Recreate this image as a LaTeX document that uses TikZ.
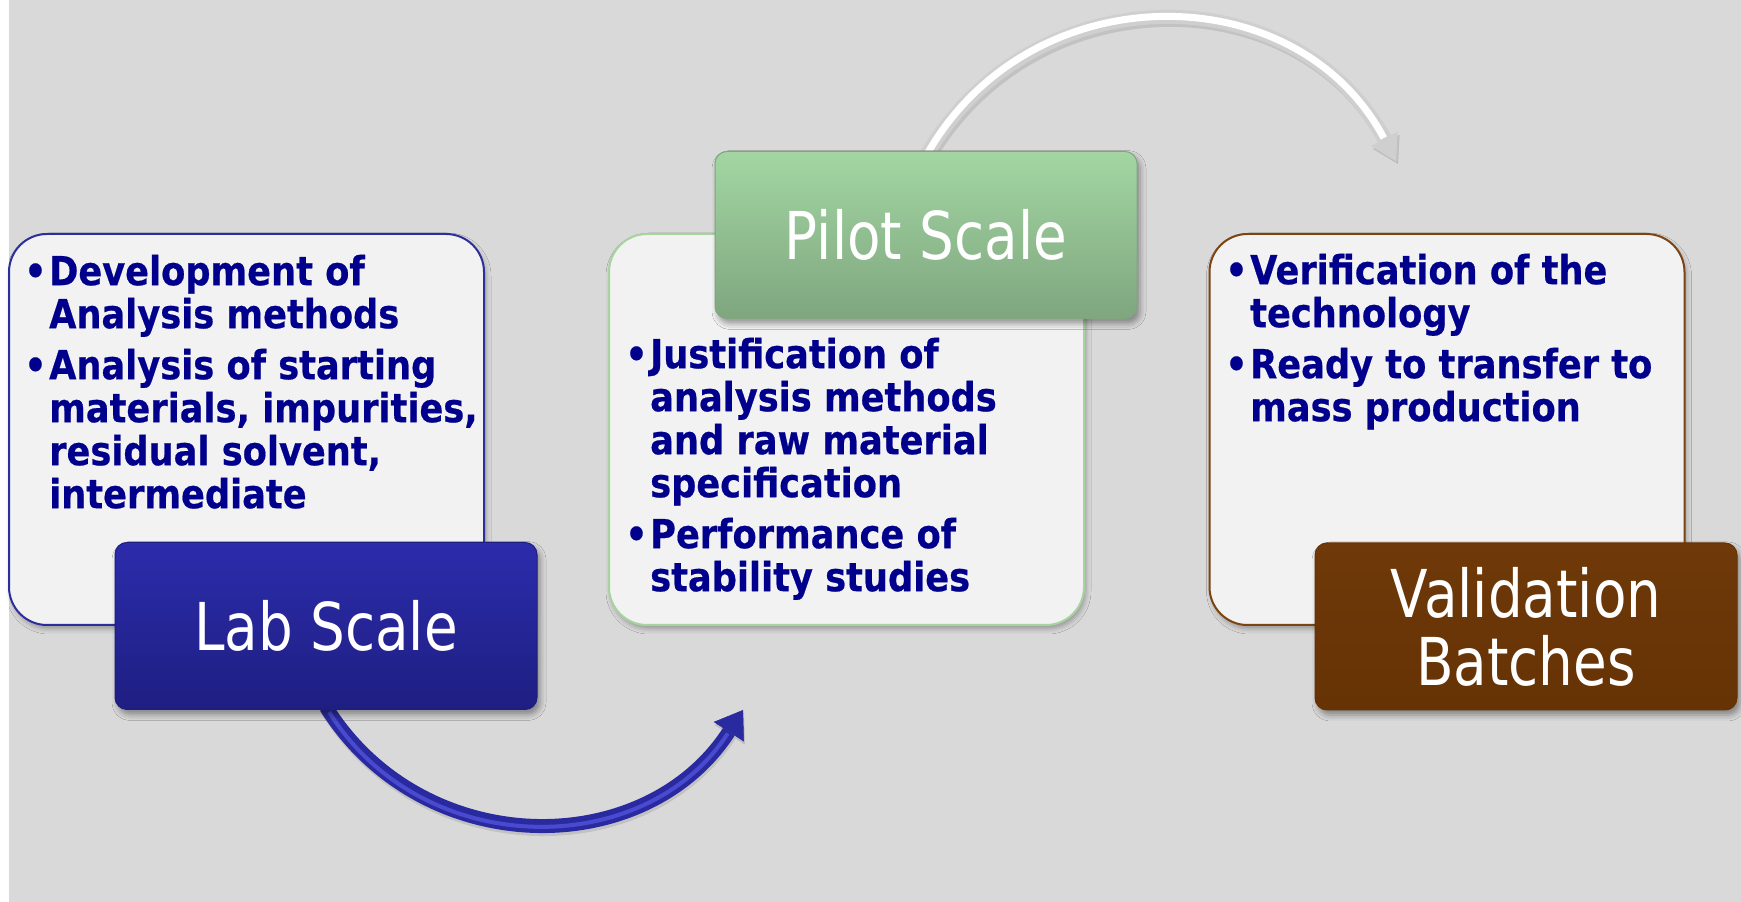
\documentclass[tikz,border=0pt]{standalone}
\usepackage{fontspec}
\setmainfont{DejaVu Sans}
\newfontfamily\bodyfont{DejaVu Sans}[FakeStretch=0.88,BoldFeatures={FakeBold=0.5}]
\newfontfamily\labelfont{DejaVu Sans}[FakeStretch=0.83]
\usetikzlibrary{arrows.meta,shadows.blur}
\definecolor{bg}{HTML}{D9D9D9}
\definecolor{boxfill}{HTML}{F2F2F2}
\definecolor{txt}{HTML}{00008C}
\definecolor{labtop}{HTML}{2C2CAC}
\definecolor{labbot}{HTML}{1E1E82}
\definecolor{labedge}{HTML}{2E2E9A}
\definecolor{piltop}{HTML}{A3D6A3}
\definecolor{pilbot}{HTML}{7FA67F}
\definecolor{piledge}{HTML}{A6D39E}
\definecolor{valtop}{HTML}{6F3909}
\definecolor{valbot}{HTML}{663305}
\definecolor{valedge}{HTML}{7A4512}
\definecolor{arrblue}{HTML}{2A2AA0}
\definecolor{arrbluelight}{HTML}{4A4AD0}
\definecolor{arrgray}{HTML}{CFCFCF}
\newcommand\bul{\rule{0pt}{32pt}\makebox[23pt][l]{\hspace{-2pt}•}}
\newcommand\ind{\hspace*{23pt}}
\begin{document}
\begin{tikzpicture}[x=1pt,y=1pt,
  textbox/.style={draw, line width=2pt, fill=boxfill, rounded corners=38pt,
    minimum width=475pt, minimum height=391pt, inner sep=0pt,
    blur shadow={shadow xshift=2pt, shadow yshift=-4pt, shadow blur radius=5pt, shadow opacity=30}},
  labelbox/.style={rounded corners=12pt, minimum width=422pt, minimum height=167pt,
    inner sep=0pt, text=white, align=center,
    font={\labelfont\fontsize{66}{68}\selectfont},
    blur shadow={shadow xshift=3pt, shadow yshift=-5pt, shadow blur radius=6pt, shadow opacity=40}},
  bodytext/.style={inner sep=0pt, align=left, text=txt, anchor=north west,
    font={\bodyfont\bfseries\fontsize{40}{43}\selectfont}},
  arrowtipblue/.style={-{Triangle[length=26pt,width=36pt,line width=0.5pt]}},
  arrowtipgray/.style={-{Triangle[length=25pt,width=30pt,line width=0.5pt]}}
  ]
\useasboundingbox (0,0) rectangle (1741,902);
\fill[bg] (9,0) rectangle (1741,902);

% text boxes
\node[textbox, draw=labedge] (labbox) at (246.5,472.5) {};
\node[textbox, draw=piledge] (pilbox) at (846.5,472.5) {};
\node[textbox, draw=valedge] (valbox) at (1447,472.5) {};

\node[bodytext] (labtext) at (26,649) {\bul Development of\\
\ind Analysis methods\\[8pt]
\bul Analysis of starting\\
\ind materials, impurities,\\
\ind residual solvent,\\
\ind intermediate};

\node[bodytext] (piltext) at (627,566) {\bul Justification of\\
\ind analysis methods\\
\ind and raw material\\
\ind specification\\[8pt]
\bul Performance of\\
\ind stability studies};

\node[bodytext] (valtext) at (1227,650) {\bul Verification of the\\
\ind technology\\[8pt]
\bul Ready to transfer to\\
\ind mass production};

% coordinates for arrow ends
\coordinate (bt) at (743,192);
\coordinate (gt) at (1396,741);

% blue arrow
\draw[black!40, opacity=0.35, line width=14pt, arrowtipblue, transform canvas={xshift=1pt,yshift=-3pt}] (326,195) to[out=302,in=237,looseness=1.11] (bt);
\draw[arrblue, line width=14pt, arrowtipblue] (326,195) to[out=302,in=237,looseness=1.11] (bt);
\draw[arrbluelight, line width=4pt, shorten >=28pt, shorten <=6pt] (326,195) to[out=302,in=237,looseness=1.11] (bt);

% gray arrow
\draw[black!35, opacity=0.45, line width=14pt, arrowtipgray, transform canvas={xshift=2pt,yshift=-3pt}] (926,746) to[out=60,in=118,looseness=1.15] (gt);
\draw[arrgray, line width=14pt, arrowtipgray] (926,746) to[out=60,in=118,looseness=1.15] (gt);
\draw[white, line width=7pt, shorten >=26pt, shorten <=4pt] (926,746) to[out=60,in=118,looseness=1.15] (gt);

% label boxes
\node[labelbox, top color=labtop, bottom color=labbot, draw=labbot, line width=1pt] (lab) at (326,276) {Lab Scale};
\node[labelbox, top color=piltop, bottom color=pilbot, draw=pilbot, line width=1pt] (pilot) at (926,667) {Pilot Scale};
\node[labelbox, top color=valtop, bottom color=valbot, draw=valbot, line width=1pt] (val) at (1526,275.5) {Validation\\Batches};
\end{tikzpicture}
\end{document}
